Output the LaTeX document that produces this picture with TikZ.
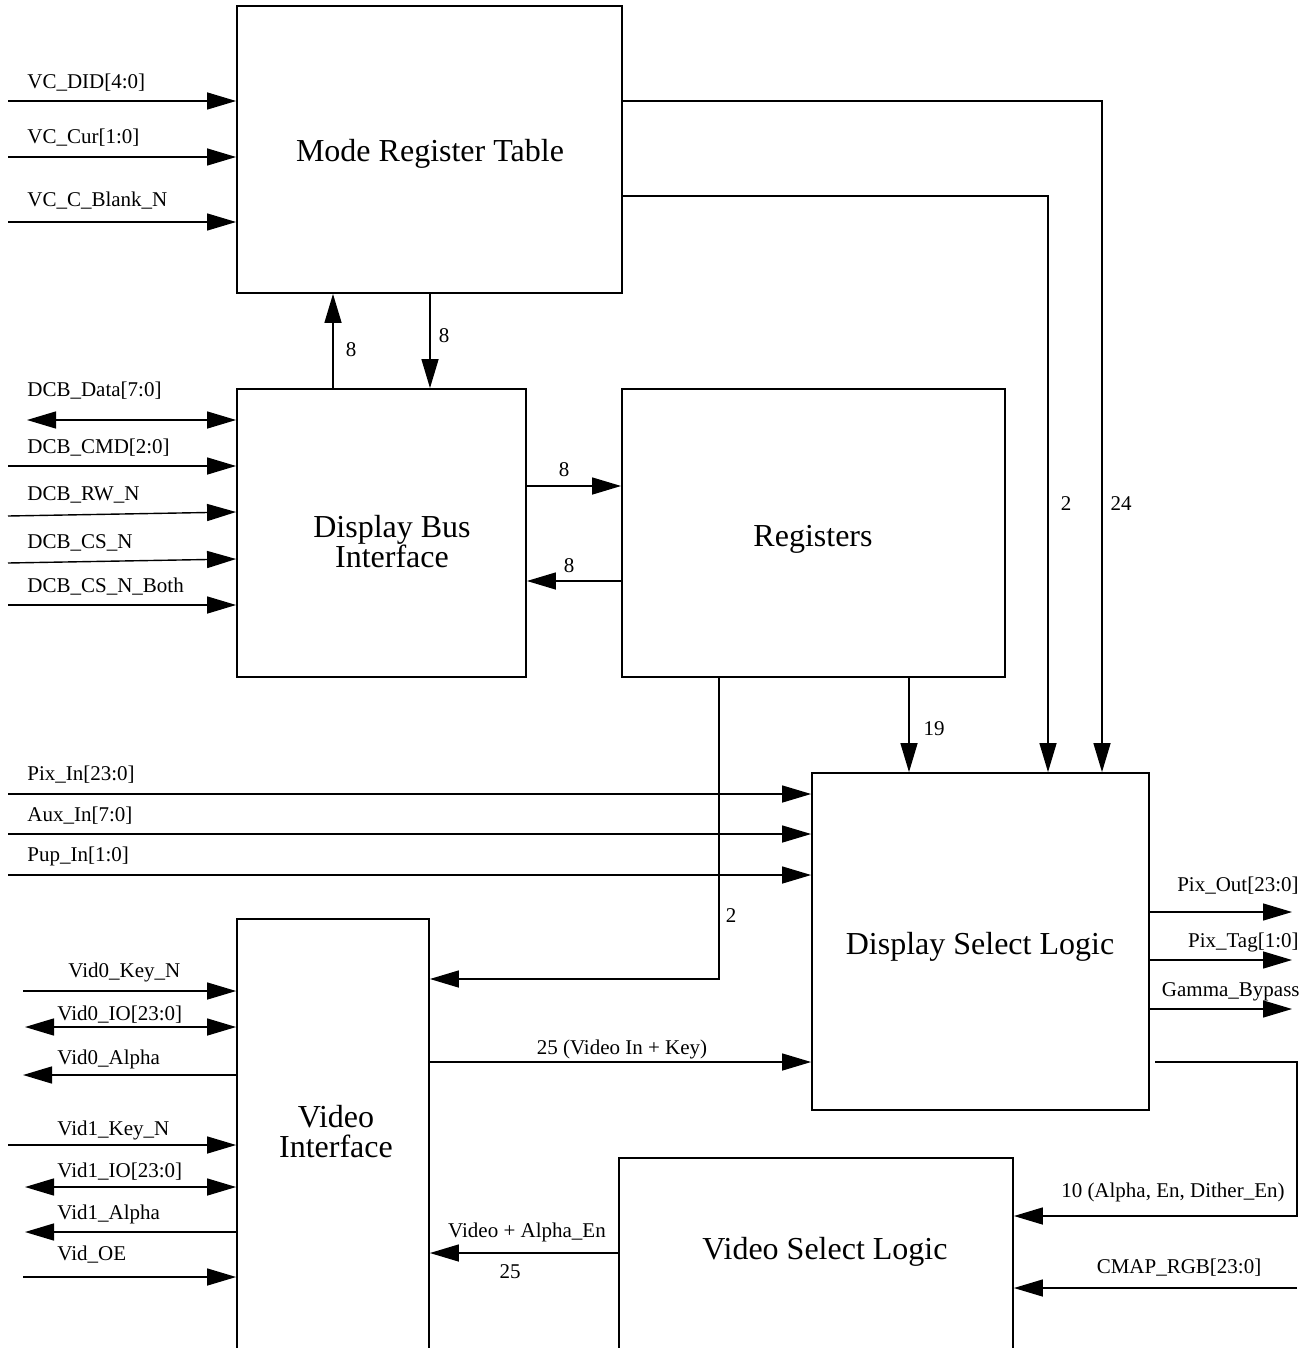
\documentclass[tikz,border=0pt]{standalone}
\usepackage{fontspec}
\setmainfont{Liberation Serif}
\usetikzlibrary{arrows.meta}

\begin{document}
\begin{tikzpicture}[x=0.5pt, y=-0.5pt,
  >={Triangle[length=14.5pt, width=8.5pt]},
  blk/.style={draw, line width=0.9pt, inner sep=0pt},
  title/.style={inner sep=0pt, align=center, font=\fontsize{16}{15}\selectfont},
  sig/.style={line width=0.7pt},
  lbl/.style={inner sep=0pt, font=\fontsize{10.5}{12}\selectfont}]
  \useasboundingbox (0,0) rectangle (1310,1348);
  \clip (0,0) rectangle (1310,1348);

  % Blocks
  \node[blk, minimum width=192.5pt, minimum height=143.5pt] (mrt) at (429.5,149.5) {};
  \node[blk, minimum width=144.5pt, minimum height=144pt] (dbi) at (381.5,533) {};
  \node[blk, minimum width=191.5pt, minimum height=144pt] (reg) at (813.5,533) {};
  \node[blk, minimum width=168.5pt, minimum height=168.5pt] (dsl) at (980.5,941.5) {};
  \node[blk, minimum width=96pt, minimum height=217.5pt] (vi) at (333,1136.5) {};
  \node[blk, minimum width=197pt, minimum height=101pt] (vsl) at (816,1259) {};
  \node[title] (mrttxt) at (430,154) {Mode Register Table};
  \node[title] (dbitxt) at (392,542) {Display Bus\\Interface};
  \node[title] (regtxt) at (813,539) {Registers};
  \node[title] (dsltxt) at (980,947) {Display Select Logic};
  \node[title] (vitxt) at (336,1132) {Video\\Interface};
  \node[title] (vsltxt) at (825,1252) {Video Select Logic};

  % Mode register table inputs
  \coordinate (didin) at (8,101);
  \coordinate (curin) at (8,157);
  \coordinate (blankin) at (8,222);
  \draw[sig,->] (didin) -- (didin -| mrt.west);
  \draw[sig,->] (curin) -- (curin -| mrt.west);
  \draw[sig,->] (blankin) -- (blankin -| mrt.west);
  \node[lbl, anchor=base west] (didlbl) at (27,89) {VC\_DID[4:0]};
  \node[lbl, anchor=base west] (curlbl) at (27,144) {VC\_Cur[1:0]};
  \node[lbl, anchor=base west] (blanklbl) at (27,207) {VC\_C\_Blank\_N};

  % Display bus inputs
  \coordinate (datain) at (27,420);
  \coordinate (cmdin) at (8,466);
  \coordinate (rwin) at (8,516);
  \coordinate (csin) at (8,563);
  \coordinate (bothin) at (8,605);
  \draw[sig,<->] (datain) -- (datain -| dbi.west);
  \draw[sig,->] (cmdin) -- (cmdin -| dbi.west);
  \draw[sig,->] (rwin) -- (dbi.west |- 0,512);
  \draw[sig,->] (csin) -- (dbi.west |- 0,559);
  \draw[sig,->] (bothin) -- (bothin -| dbi.west);
  \node[lbl, anchor=base west] (datalbl) at (27,396) {DCB\_Data[7:0]};
  \node[lbl, anchor=base west] (cmdlbl) at (27,453) {DCB\_CMD[2:0]};
  \node[lbl, anchor=base west] (rwlbl) at (27,500) {DCB\_RW\_N};
  \node[lbl, anchor=base west] (cslbl) at (27,548) {DCB\_CS\_N};
  \node[lbl, anchor=base west] (bothlbl) at (27,592) {DCB\_CS\_N\_Both};

  % Bus interface <-> mode table and registers
  \draw[sig,->] (333,0 |- dbi.north) -- (333,0 |- mrt.south);
  \draw[sig,->] (430,0 |- mrt.south) -- (430,0 |- dbi.north);
  \draw[sig,->] (dbi.east |- 0,486) -- (reg.west |- 0,486);
  \draw[sig,->] (reg.west |- 0,581) -- (dbi.east |- 0,581);
  \node[lbl, anchor=base] (uplbl) at (351,356) {8};
  \node[lbl, anchor=base] (downlbl) at (444,342) {8};
  \node[lbl, anchor=base] (tolbl) at (564,476) {8};
  \node[lbl, anchor=base] (fromlbl) at (569,572) {8};

  % Into display select logic
  \draw[sig,->] (mrt.east |- 0,101) -| (1102,0 |- dsl.north);
  \draw[sig,->] (mrt.east |- 0,196) -| (1048,0 |- dsl.north);
  \draw[sig,->] (909,0 |- reg.south) -- (909,0 |- dsl.north);
  \draw[sig,->] (719,0 |- reg.south) |- (vi.east |- 0,979);
  \node[lbl, anchor=base] (w24) at (1121,510) {24};
  \node[lbl, anchor=base] (w2a) at (1066,510) {2};
  \node[lbl, anchor=base] (w19) at (934,735) {19};
  \node[lbl, anchor=base] (w2b) at (731,922) {2};

  \coordinate (pixin) at (8,794);
  \coordinate (auxin) at (8,834);
  \coordinate (pupin) at (8,875);
  \draw[sig,->] (pixin) -- (pixin -| dsl.west);
  \draw[sig,->] (auxin) -- (auxin -| dsl.west);
  \draw[sig,->] (pupin) -- (pupin -| dsl.west);
  \node[lbl, anchor=base west] (pixinlbl) at (27,780) {Pix\_In[23:0]};
  \node[lbl, anchor=base west] (auxinlbl) at (27,821) {Aux\_In[7:0]};
  \node[lbl, anchor=base west] (pupinlbl) at (27,861) {Pup\_In[1:0]};

  % Display select logic outputs
  \coordinate (pixout) at (1292,912);
  \coordinate (tagout) at (1292,960);
  \coordinate (gamout) at (1292,1009);
  \draw[sig,->] (dsl.east |- pixout) -- (pixout);
  \draw[sig,->] (dsl.east |- tagout) -- (tagout);
  \draw[sig,->] (dsl.east |- gamout) -- (gamout);
  \node[lbl, anchor=base east] (pixoutlbl) at (1299,891) {Pix\_Out[23:0]};
  \node[lbl, anchor=base east] (tagoutlbl) at (1299,947) {Pix\_Tag[1:0]};
  \node[lbl, anchor=base east] (gamoutlbl) at (1300,996) {Gamma\_Bypass};

  % Video paths
  \coordinate (dslout) at (1155,1062);
  \coordinate (bend) at (1297,1216);
  \coordinate (cmapin) at (1297,1288);
  \draw[sig,->] (dslout) -| (bend) -- (bend -| vsl.east);
  \draw[sig,->] (cmapin) -- (cmapin -| vsl.east);
  \draw[sig,->] (vi.east |- 0,1062) -- (dsl.west |- 0,1062);
  \draw[sig,->] (vsl.west |- 0,1253) -- (vi.east |- 0,1253);
  \node[lbl, anchor=base east] (alphalbl) at (1285,1197) {10 (Alpha, En, Dither\_En)};
  \node[lbl, anchor=base] (cmaplbl) at (1179,1273) {CMAP\_RGB[23:0]};
  \node[lbl, anchor=base] (vidinlbl) at (622,1054) {25 (Video In + Key)};
  \node[lbl, anchor=base] (vidalbl) at (527,1237) {Video + Alpha\_En};
  \node[lbl, anchor=base] (w25) at (510,1278) {25};

  % Video interface pins
  \coordinate (key0) at (23,991);
  \coordinate (io0) at (25,1027);
  \coordinate (alpha0) at (23,1075);
  \coordinate (key1) at (8,1145);
  \coordinate (io1) at (25,1187);
  \coordinate (alpha1) at (25,1232);
  \coordinate (oe) at (23,1277);
  \draw[sig,->] (key0) -- (key0 -| vi.west);
  \draw[sig,<->] (io0) -- (io0 -| vi.west);
  \draw[sig,->] (alpha0 -| vi.west) -- (alpha0);
  \draw[sig,->] (key1) -- (key1 -| vi.west);
  \draw[sig,<->] (io1) -- (io1 -| vi.west);
  \draw[sig,->] (alpha1 -| vi.west) -- (alpha1);
  \draw[sig,->] (oe) -- (oe -| vi.west);
  \node[lbl, anchor=base west] (key0lbl) at (68,977) {Vid0\_Key\_N};
  \node[lbl, anchor=base west] (io0lbl) at (57,1020) {Vid0\_IO[23:0]};
  \node[lbl, anchor=base west] (alpha0lbl) at (57,1064) {Vid0\_Alpha};
  \node[lbl, anchor=base west] (key1lbl) at (57,1135) {Vid1\_Key\_N};
  \node[lbl, anchor=base west] (io1lbl) at (57,1177) {Vid1\_IO[23:0]};
  \node[lbl, anchor=base west] (alpha1lbl) at (57,1219) {Vid1\_Alpha};
  \node[lbl, anchor=base west] (oelbl) at (57,1260) {Vid\_OE};
\end{tikzpicture}
\end{document}
